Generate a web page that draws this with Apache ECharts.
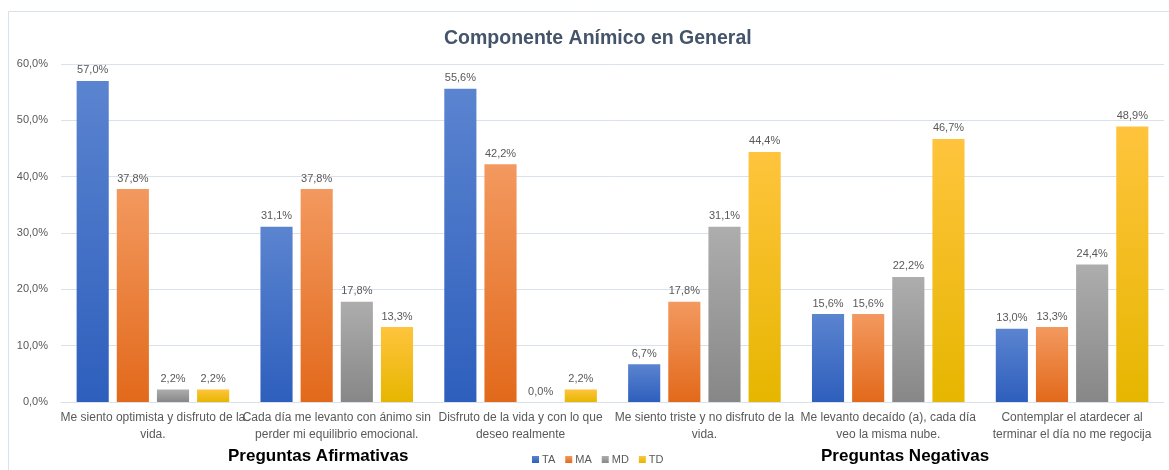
<!DOCTYPE html>
<html>
<head>
<meta charset="utf-8">
<script src="https://cdn.jsdelivr.net/npm/echarts@6/dist/echarts.min.js"></script>
<style>
    html, body { margin: 0; padding: 0; background: #fff; }
    #chart { width: 1169px; height: 470px; }
</style>
</head>
<body>
<div id="chart"></div>
<script>
// categorias (preguntas) y series
var categorias = [
    'Me siento optimista y disfruto de la\nvida.',
    'Cada día me levanto con ánimo sin\nperder mi equilibrio emocional.',
    'Disfruto de la vida y con lo que\ndeseo realmente',
    'Me siento triste y no disfruto de la\nvida.',
    'Me levanto decaído (a), cada día\nveo la misma nube.',
    'Contemplar el atardecer al\nterminar el día no me regocija'
];
var TA = [57.0, 31.1, 55.6, 6.7, 15.6, 13.0];
var MA = [37.8, 37.8, 42.2, 17.8, 15.6, 13.3];
var MD = [2.2, 17.8, 0.0, 31.1, 22.2, 24.4];
var TD = [2.2, 13.3, 2.2, 44.4, 46.7, 48.9];

var fuente = 'Liberation Sans';

function grad(top, bottom) {
    return new echarts.graphic.LinearGradient(0, 0, 0, 1, [
        { offset: 0, color: top },
        { offset: 1, color: bottom }
    ]);
}
function pct(v) {
    return v.toFixed(1).replace('.', ',') + '%';
}
function serie(nombre, datos, c1, c2) {
    return {
        name: nombre,
        type: 'bar',
        data: datos,
        barGap: '25%',
        barCategoryGap: '17%',
        itemStyle: { color: grad(c1, c2) },
        label: {
            show: true,
            position: 'top',
            distance: 5,
            color: '#595959',
            fontFamily: fuente,
            fontSize: 11,
            formatter: function (p) { return pct(p.value); }
        }
    };
}

var myChart = echarts.init(document.getElementById('chart'));
var option = {
    backgroundColor: '#fff',
    animation: false,
    textStyle: { fontFamily: fuente },
    title: [{
        text: 'Componente Anímico en General',
        left: 439,
        top: 24,
        textStyle: { color: '#44546a', fontSize: 19.5, fontWeight: 'bold', fontFamily: fuente }
    }, {
        text: 'Preguntas Afirmativas',
        left: 223,
        top: 443,
        textStyle: { color: '#000', fontSize: 17, fontWeight: 'bold', fontFamily: fuente }
    }, {
        text: 'Preguntas Negativas',
        left: 816,
        top: 443,
        textStyle: { color: '#000', fontSize: 17, fontWeight: 'bold', fontFamily: fuente }
    }],
    legend: {
        data: ['TA', 'MA', 'MD', 'TD'],
        left: 527,
        top: 449,
        itemWidth: 7,
        itemHeight: 7,
        itemGap: 10,
        icon: 'rect',
        textStyle: { color: '#595959', fontSize: 11, fontFamily: fuente, padding: [0, 0, 0, -2] }
    },
    graphic: [{
        type: 'rect',
        shape: { x: 8.5, y: 11.5, width: 1200, height: 500 },
        style: { fill: 'none', stroke: '#d9e1ea', lineWidth: 1 },
        silent: true
    }],
    grid: { left: 61, right: 5, top: 64, bottom: 68 },
    xAxis: {
        type: 'category',
        data: categorias,
        axisTick: { show: false },
        axisLine: { lineStyle: { color: '#d9e1ea' } },
        axisLabel: {
            color: '#595959',
            fontSize: 12,
            fontFamily: fuente,
            lineHeight: 17,
            margin: 7,
            interval: 0
        }
    },
    yAxis: {
        type: 'value',
        min: 0,
        max: 60,
        interval: 10,
        axisLine: { show: false },
        axisTick: { show: false },
        splitLine: { lineStyle: { color: '#d9e1ea' } },
        axisLabel: {
            color: '#595959',
            fontSize: 11,
            fontFamily: fuente,
            margin: 13,
            formatter: function (v) { return pct(v); }
        }
    },
    series: [
        serie('TA', TA, '#5b84d0', '#2e5fbd'),
        serie('MA', MA, '#f3995f', '#e2691b'),
        serie('MD', MD, '#adadad', '#878787'),
        serie('TD', TD, '#ffc43d', '#e6b600')
    ]
};
myChart.setOption(option);
</script>
</body>
</html>
